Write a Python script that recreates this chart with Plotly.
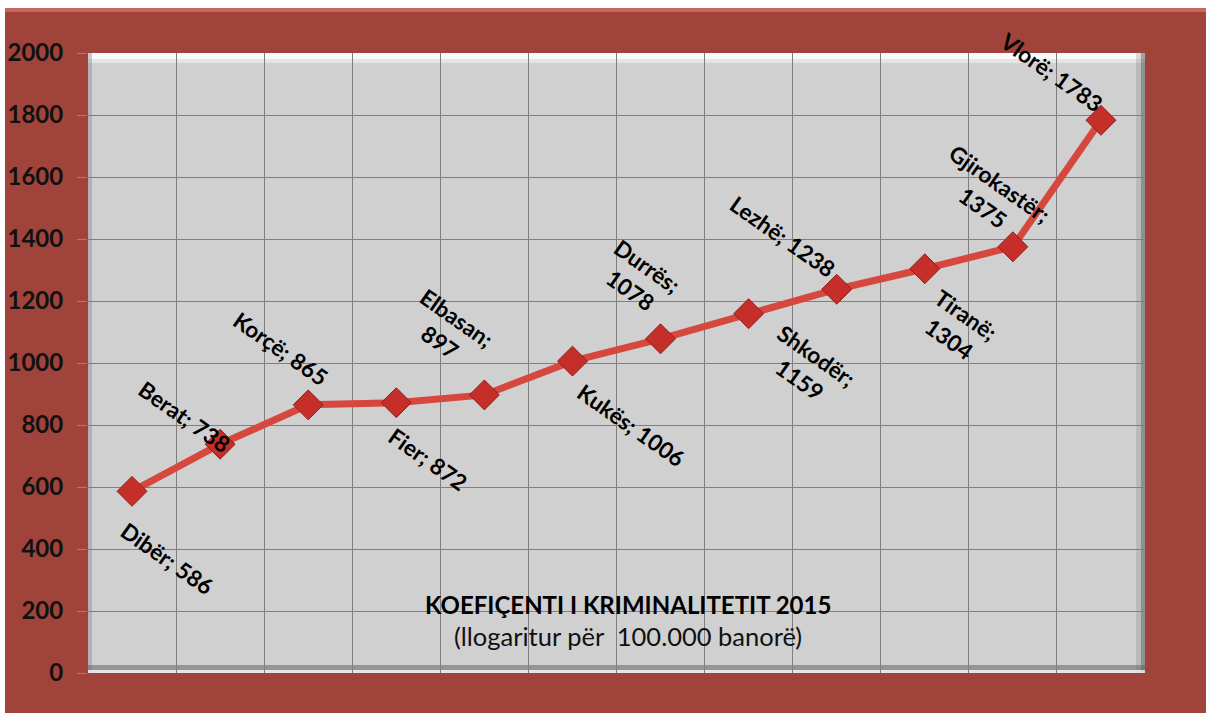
import plotly.graph_objects as go

cities = ["Dibër", "Berat", "Korçë", "Fier", "Elbasan", "Kukës", "Durrës",
          "Shkodër", "Lezhë", "Tiranë", "Gjirokastër", "Vlorë"]
values = [586, 738, 865, 872, 897, 1006, 1078, 1159, 1238, 1304, 1375, 1783]
label_text = ["Dibër; 586", "Berat; 738", "Korçë; 865", "Fier; 872", "Elbasan;<br>897",
              "Kukës; 1006", "Durrës;<br>1078", "Shkodër;<br>1159", "Lezhë; 1238",
              "Tiranë;<br>1304", "Gjirokastër;<br>1375", "Vlorë; 1783"]
# label offsets in pixels relative to each point (x right, y up)
label_dx = [35, -36, -28, 32, -36, 59, -22, 60, -54, 33, -21, -49]
label_dy = [-67, 28, 56, -57, 65, -64, 61, -54, 53, -58, 51, 48]
y_ticks = list(range(0, 2001, 200))

title = "KOEFIÇENTI I KRIMINALITETIT 2015"
subtitle = "(llogaritur për  100.000 banorë)"

W, H = 1206, 715
L, R, T, B = 88, 1145, 53, 673

def px(x):
    return (x - L) / (R - L)

def py(y):
    return (B - y) / (B - T)

fig = go.Figure()
fig.add_trace(go.Scatter(
    x=cities, y=values, mode="lines+markers",
    line=dict(color="#D6473E", width=7),
    marker=dict(symbol="diamond", size=23, color="#C62F29",
                line=dict(color="#8E1E1A", width=1)),
    hoverinfo="x+y", showlegend=False,
))

annotations = []
for c, v, t, dx, dy in zip(cities, values, label_text, label_dx, label_dy):
    annotations.append(dict(
        x=c, y=v, xref="x", yref="y", text=t, showarrow=False,
        xshift=dx, yshift=dy, textangle=35, align="center",
        font=dict(family="Lato", size=22.5, color="#000000", weight="bold"),
    ))
annotations.append(dict(
    x=px(628), y=py(604), xref="paper", yref="paper", text=title, showarrow=False,
    font=dict(family="Lato", size=24, color="#000000", weight="bold"),
    xanchor="center", yanchor="middle",
))
annotations.append(dict(
    x=px(628), y=py(636), xref="paper", yref="paper", text=subtitle, showarrow=False,
    font=dict(family="Lato", size=25.5, color="#111111"),
    xanchor="center", yanchor="middle",
))

shapes = [
    # top highlight of the bevelled plot area
    dict(type="rect", xref="paper", yref="paper", x0=0, x1=1, y0=py(59), y1=1,
         fillcolor="rgba(255,255,255,0.9)", line_width=0, layer="below"),
    dict(type="rect", xref="paper", yref="paper", x0=0, x1=1, y0=py(63), y1=py(59),
         fillcolor="rgba(255,255,255,0.45)", line_width=0, layer="below"),
    # right shadow
    dict(type="rect", xref="paper", yref="paper", x0=px(1136), x1=px(1141), y0=0, y1=1,
         fillcolor="rgba(120,120,120,0.25)", line_width=0, layer="below"),
    dict(type="rect", xref="paper", yref="paper", x0=px(1141), x1=1, y0=0, y1=1,
         fillcolor="rgba(90,90,90,0.55)", line_width=0, layer="below"),
    # left shadow
    dict(type="rect", xref="paper", yref="paper", x0=0, x1=px(92), y0=0, y1=1,
         fillcolor="rgba(130,130,130,0.4)", line_width=0, layer="below"),
    # bottom shadow
    dict(type="rect", xref="paper", yref="paper", x0=0, x1=1, y0=py(670), y1=py(665),
         fillcolor="rgba(100,100,100,0.55)", line_width=0, layer="below"),
    dict(type="rect", xref="paper", yref="paper", x0=0, x1=1, y0=0, y1=py(670),
         fillcolor="rgba(235,235,235,0.8)", line_width=0, layer="below"),
    # subtle light band at top edge of red frame
    dict(type="rect", xref="paper", yref="paper", x0=px(5), x1=px(W), y0=py(12), y1=py(8),
         fillcolor="rgba(225,130,120,0.6)", line_width=0, layer="below"),
    # white outer margins of the picture
    dict(type="rect", xref="paper", yref="paper", x0=px(0), x1=px(W), y0=py(8), y1=py(0),
         fillcolor="white", line_width=0, layer="above"),
    dict(type="rect", xref="paper", yref="paper", x0=px(0), x1=px(5), y0=py(H), y1=py(0),
         fillcolor="white", line_width=0, layer="above"),
    dict(type="rect", xref="paper", yref="paper", x0=px(0), x1=px(W), y0=py(H), y1=py(713),
         fillcolor="white", line_width=0, layer="above"),
]

fig.update_layout(
    width=W, height=H,
    margin=dict(l=L, r=W - R, t=T, b=H - B, autoexpand=False),
    paper_bgcolor="#A0433A",
    plot_bgcolor="#D0D0D0",
    annotations=annotations,
    shapes=shapes,
    xaxis=dict(
        type="category", tickson="boundaries", showticklabels=False,
        showgrid=True, gridcolor="#7F7F7F", gridwidth=1, ticks="",
        range=[-0.5, 11.5], zeroline=False, showline=False, fixedrange=True,
        automargin=False,
    ),
    yaxis=dict(
        range=[0, 2000], tickvals=y_ticks, showgrid=True, gridcolor="#7F7F7F",
        gridwidth=1, ticks="outside", ticklen=10, tickcolor="#8A8A8A",
        tickfont=dict(family="Lato", size=24, color="#111111", weight="bold"),
        zeroline=False, showline=False, ticklabelstandoff=9, automargin=False,
    ),
)

fig.write_html("out.html", config={"displayModeBar": False},
               post_script="document.body.style.margin='0px';")
